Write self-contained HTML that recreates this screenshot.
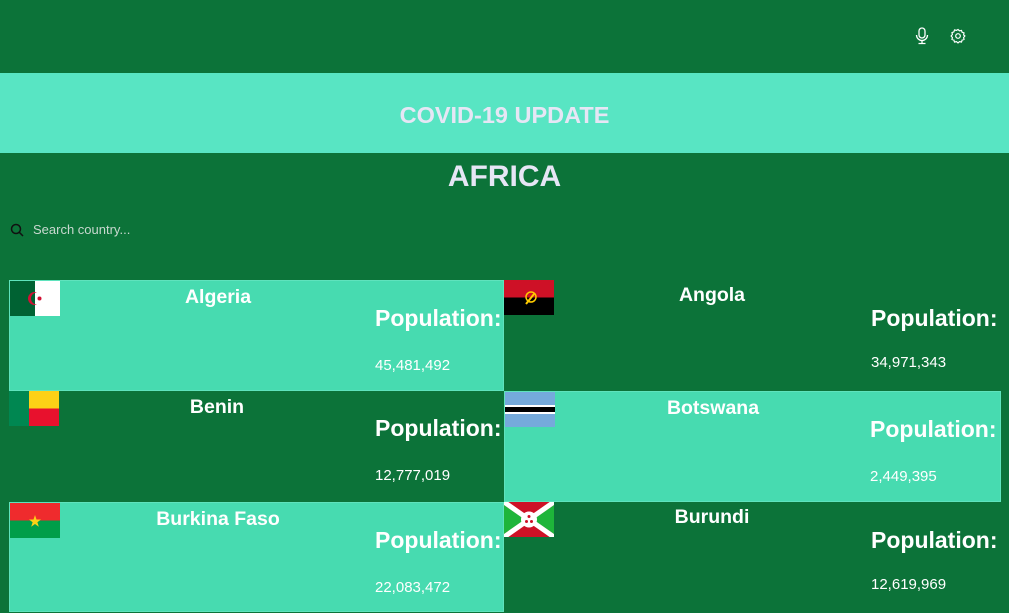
<!DOCTYPE html>
<html><head><meta charset="utf-8"><style>
*{margin:0;padding:0;box-sizing:border-box}
body{width:1009px;height:609px;overflow:hidden;background:#0c7339;font-family:"Segoe UI","Liberation Sans",sans-serif;position:relative;color:#fff}
.abs{position:absolute}
.banner{left:0;top:73px;width:1009px;height:80px;background:#58e5c3;display:flex;align-items:center;justify-content:center;font-weight:bold;font-size:23.5px;color:#e6e6f5;padding-top:5px}
.title{left:0;top:160px;width:1009px;text-align:center;font-weight:bold;font-size:30px;color:#e6e6f5}
.card{position:absolute;height:111px}
.card.hl{background:#47dbb0;border:1px solid #5fe3bd}
.flag{position:absolute;left:0;top:0;width:50px;height:35px}
.name{position:absolute;top:5px;width:416px;text-align:center;font-weight:bold;font-size:19.5px}
.pl{position:absolute;left:365px;top:24px;font-weight:bold;font-size:23px;white-space:nowrap}
.num{position:absolute;left:365px;top:76px;font-size:15px}
</style></head><body>
<div class="abs" style="left:0;top:0;width:1009px;height:73px;background:#0c7339"></div>
<svg class="abs" style="left:914px;top:27px" width="16" height="18" viewBox="0 0 16 18"><rect x="5" y="1" width="6" height="10" rx="3" fill="none" stroke="#fff" stroke-width="1.3"/><path d="M2.5 8a5.5 5.5 0 0 0 11 0M8 13.5V16M4.5 16.5h7" fill="none" stroke="#fff" stroke-width="1.3"/></svg>
<svg class="abs" style="left:950px;top:28px" width="16" height="16" viewBox="0 0 16 16"><path d="M8 1.5l1.5 1.3 2-.4.6 1.9 1.9.6-.4 2L14.9 8l-1.3 1.5.4 2-1.9.6-.6 1.9-2-.4L8 14.9l-1.5-1.3-2 .4-.6-1.9-1.9-.6.4-2L1.1 8l1.3-1.5-.4-2 1.9-.6.6-1.9 2 .4z" fill="none" stroke="#fff" stroke-width="1.2"/><circle cx="8" cy="8" r="2.3" fill="none" stroke="#fff" stroke-width="1.2"/></svg>
<div class="abs banner">COVID-19 UPDATE</div>
<div class="abs title">AFRICA</div>
<svg class="abs" style="left:10px;top:223px" width="14" height="14" viewBox="0 0 14 14"><circle cx="6" cy="6" r="4.5" fill="none" stroke="#111" stroke-width="1.5"/><path d="M9.3 9.3L13 13" stroke="#111" stroke-width="1.5"/></svg>
<div class="abs" style="left:33px;top:222px;font-size:13px;color:#c8d8cf">Search country...</div>

<div class="card hl" style="left:9px;top:280px;width:495px">
<svg class="flag" viewBox="0 0 50 35"><rect width="25" height="35" fill="#006233"/><rect x="25" width="25" height="35" fill="#fff"/><path d="M27 11.5a6.5 6.5 0 1 0 0 12a5.2 5.2 0 1 1 0-12z" fill="#d21034"/><circle cx="29.5" cy="17.5" r="2" fill="#d21034"/></svg>
<div class="name">Algeria</div>
<div class="pl">Population:</div>
<div class="num">45,481,492</div></div>

<div class="card" style="left:504px;top:280px;width:497px">
<svg class="flag" viewBox="0 0 50 35"><rect width="50" height="17.5" fill="#ce1126"/><rect y="17.5" width="50" height="17.5" fill="#000"/><path d="M22 24l8-10" stroke="#ffcb00" stroke-width="2"/><circle cx="27" cy="17" r="5" fill="none" stroke="#ffcb00" stroke-width="1.5"/></svg>
<div class="name" style="top:4px">Angola</div>
<div class="pl" style="left:367px;top:25px">Population:</div>
<div class="num" style="left:367px;top:74px">34,971,343</div></div>

<div class="card" style="left:9px;top:391px;width:495px">
<svg class="flag" viewBox="0 0 50 35"><rect width="20" height="35" fill="#008751"/><rect x="20" width="30" height="17.5" fill="#fcd116"/><rect x="20" y="17.5" width="30" height="17.5" fill="#e8112d"/></svg>
<div class="name">Benin</div>
<div class="pl" style="left:366px">Population:</div>
<div class="num" style="left:366px">12,777,019</div></div>

<div class="card hl" style="left:504px;top:391px;width:497px">
<svg class="flag" viewBox="0 0 50 35"><rect width="50" height="35" fill="#75aadb"/><rect y="13" width="50" height="9" fill="#fff"/><rect y="15" width="50" height="5" fill="#000"/></svg>
<div class="name">Botswana</div>
<div class="pl">Population:</div>
<div class="num">2,449,395</div></div>

<div class="card hl" style="left:9px;top:502px;width:495px;height:110px">
<svg class="flag" viewBox="0 0 50 35"><rect width="50" height="17.5" fill="#ef2b2d"/><rect y="17.5" width="50" height="17.5" fill="#009e49"/><polygon points="25,12 26.5,16.5 31,16.5 27.4,19.3 28.8,23.7 25,21 21.2,23.7 22.6,19.3 19,16.5 23.5,16.5" fill="#fcd116"/></svg>
<div class="name">Burkina Faso</div>
<div class="pl">Population:</div>
<div class="num">22,083,472</div></div>

<div class="card" style="left:504px;top:502px;width:497px">
<svg class="flag" viewBox="0 0 50 35"><rect width="50" height="35" fill="#ce1126"/><polygon points="0,3 0,32 21,17.5" fill="#1eb53a"/><polygon points="50,3 50,32 29,17.5" fill="#1eb53a"/><path d="M0 0L50 35M50 0L0 35" stroke="#fff" stroke-width="5"/><circle cx="25" cy="17.5" r="8" fill="#fff"/><circle cx="25" cy="14.5" r="1.5" fill="#ce1126"/><circle cx="22.5" cy="19.5" r="1.5" fill="#ce1126"/><circle cx="27.5" cy="19.5" r="1.5" fill="#ce1126"/></svg>
<div class="name" style="top:4px">Burundi</div>
<div class="pl" style="left:367px;top:25px">Population:</div>
<div class="num" style="left:367px;top:74px">12,619,969</div></div>
</body></html>
